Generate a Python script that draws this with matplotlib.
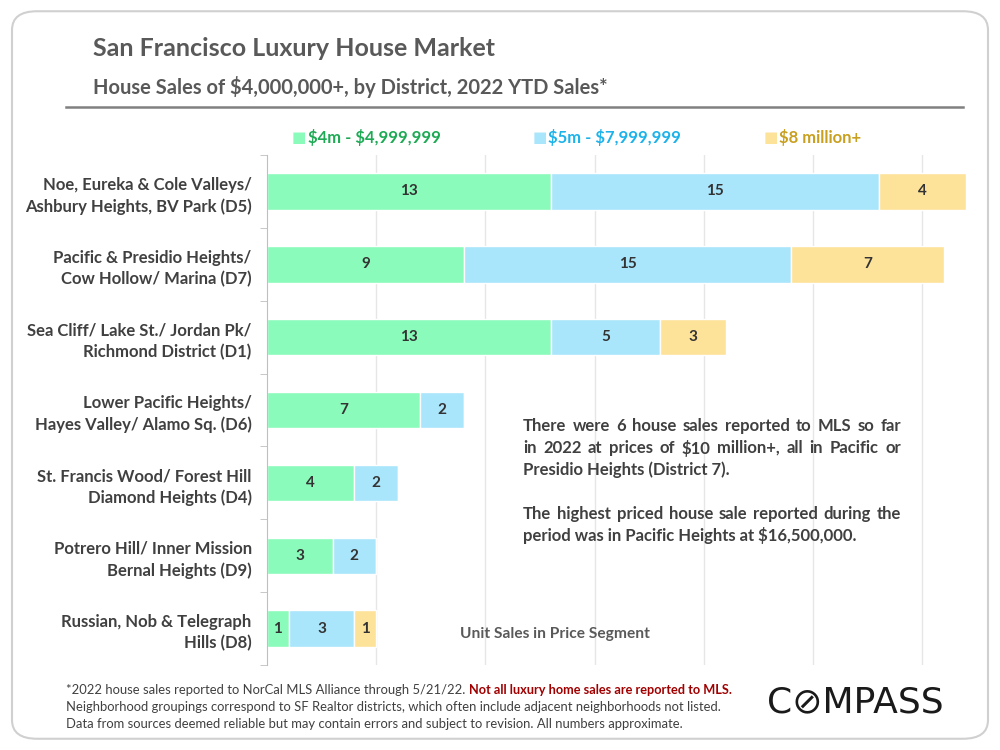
import matplotlib.pyplot as plt
from matplotlib.patches import FancyBboxPatch
from matplotlib.lines import Line2D

plt.rcParams['font.family'] = ['Lato', 'DejaVu Sans']

districts = ["Noe, Eureka & Cole Valleys/\nAshbury Heights, BV Park (D5)",
             "Pacific & Presidio Heights/\nCow Hollow/ Marina (D7)",
             "Sea Cliff/ Lake St./ Jordan Pk/\nRichmond District (D1)",
             "Lower Pacific Heights/\nHayes Valley/ Alamo Sq. (D6)",
             "St. Francis Wood/ Forest Hill\nDiamond Heights (D4)",
             "Potrero Hill/ Inner Mission\nBernal Heights (D9)",
             "Russian, Nob & Telegraph\nHills (D8)"]
seg_4m = [13, 9, 13, 7, 4, 3, 1]
seg_5m = [15, 15, 5, 2, 2, 2, 3]
seg_8m = [4, 7, 3, 0, 0, 0, 1]
segments = [r"\$4m - \$4,999,999", r"\$5m - \$7,999,999", r"\$8 million+"]
fills = ["#8AFBBA", "#A9E5FB", "#FDE29A"]
text_cols = ["#1EAA55", "#1CB2EA", "#C8A020"]

fig = plt.figure(figsize=(10, 7.5), dpi=100)

# rounded frame
frame = FancyBboxPatch((0.012, 0.015), 0.976, 0.97, boxstyle="round,pad=0,rounding_size=0.025",
                       transform=fig.transFigure, fc="none", ec="#D0D0D0", lw=1.5, zorder=-1)
fig.patches.append(frame)

fig.text(0.093, 0.935, "San Francisco Luxury House Market", fontsize=18, fontweight="bold",
         color="#595959", va="center")
fig.text(0.093, 0.884, r"House Sales of \$4,000,000+, by District, 2022 YTD Sales*", fontsize=14.5,
         fontweight="bold", color="#595959", va="center")
fig.lines.append(Line2D([0.066, 0.963], [0.857, 0.857], transform=fig.transFigure,
                        color="#808080", lw=1.8))

ax = fig.add_axes([0.267, 0.1133, 0.699, 0.68])
y = range(len(districts))
left = [0] * len(districts)
for vals, fc in zip([seg_4m, seg_5m, seg_8m], fills):
    bars = ax.barh(y, vals, left=left, height=0.5, color=fc, edgecolor="white", lw=1)
    for b, v in zip(bars, vals):
        if v:
            ax.text(b.get_x() + b.get_width() / 2, b.get_y() + b.get_height() / 2, str(v),
                    ha="center", va="center", fontsize=11, fontweight="bold", color="#333333")
    left = [l + v for l, v in zip(left, vals)]

ax.set_xlim(0, 32)
ax.set_ylim(len(districts) - 0.5, -0.5)
ax.set_xticks([5, 10, 15, 20, 25, 30])
ax.xaxis.grid(True, color="#E6E6E6", lw=1)
ax.set_axisbelow(True)
ax.tick_params(axis="x", length=0, labelbottom=False)
ax.set_yticks(list(y))
ax.set_yticklabels(districts, fontsize=12, fontweight="bold", color="#404040", linespacing=1.4)
ax.tick_params(axis="y", length=0, pad=11)
ax.set_yticks([i - 0.5 for i in range(len(districts) + 1)], minor=True)
ax.tick_params(axis="y", which="minor", length=5, color="#BFBFBF")
for s in ["top", "right", "bottom"]:
    ax.spines[s].set_visible(False)
ax.spines["left"].set_color("#BFBFBF")

for sx, tx, name, fc, tc in zip([0.299, 0.540, 0.771], [0.308, 0.548, 0.779], segments, fills, text_cols):
    fig.text(sx, 0.816, "\u25A0", fontsize=11, color=fc, va="center", ha="center",
             family="DejaVu Sans")
    fig.text(tx, 0.816, name, fontsize=12, fontweight="bold", color=tc, va="center")

# justified note text
note = [["There were 6 house sales reported to MLS so far",
         "in 2022 at prices of $10 million+, all in Pacific or",
         "Presidio Heights (District 7)."],
        ["The highest priced house sale reported during the",
         "period was in Pacific Heights at $16,500,000."]]
x0, x1 = 523, 901
renderer = fig.canvas.get_renderer()
row = 0
for para in note:
    for k, line in enumerate(para):
        yy = 1 - (426 + 22 * row) / 750
        words = line.replace("$", r"\$").split()
        if k == len(para) - 1:
            fig.text(x0 / 1000, yy, " ".join(words), fontsize=12, fontweight="bold",
                     color="#404040", va="center")
        else:
            arts = [fig.text(0, yy, w, fontsize=12, fontweight="bold", color="#404040",
                             va="center") for w in words]
            widths = [a.get_window_extent(renderer).width for a in arts]
            gap = (x1 - x0 - sum(widths)) / (len(words) - 1)
            xp = x0
            for a, w in zip(arts, widths):
                a.set_x(xp / 1000)
                xp += w + gap
        row += 1
    row += 1

fig.text(0.460, 1 - 634 / 750, "Unit Sales in Price Segment", fontsize=11.2, fontweight="bold",
         color="#595959", va="center")

t1 = fig.text(0.066, 1 - 690 / 750, "*2022 house sales reported to NorCal MLS Alliance through 5/21/22. ",
              fontsize=9.4, color="#404040", va="center")
ax.annotate("Not all luxury home sales are reported to MLS.", xy=(1, 0.5), xycoords=t1,
            va="center", ha="left", fontsize=9.2, color="#A00000", fontweight="bold")
fig.text(0.066, 1 - 707 / 750, "Neighborhood groupings correspond to SF Realtor districts, which often include adjacent neighborhoods not listed.",
         fontsize=9.4, color="#404040", va="center")
fig.text(0.066, 1 - 724 / 750, "Data from sources deemed reliable but may contain errors and subject to revision. All numbers approximate.",
         fontsize=9.4, color="#404040", va="center")

fig.text(0.855, 1 - 702 / 750, "C\u2298MPASS", fontsize=26, color="#1A1A1A", va="center", ha="center",
         family="DejaVu Sans")

fig.savefig("out.png", dpi=100)
